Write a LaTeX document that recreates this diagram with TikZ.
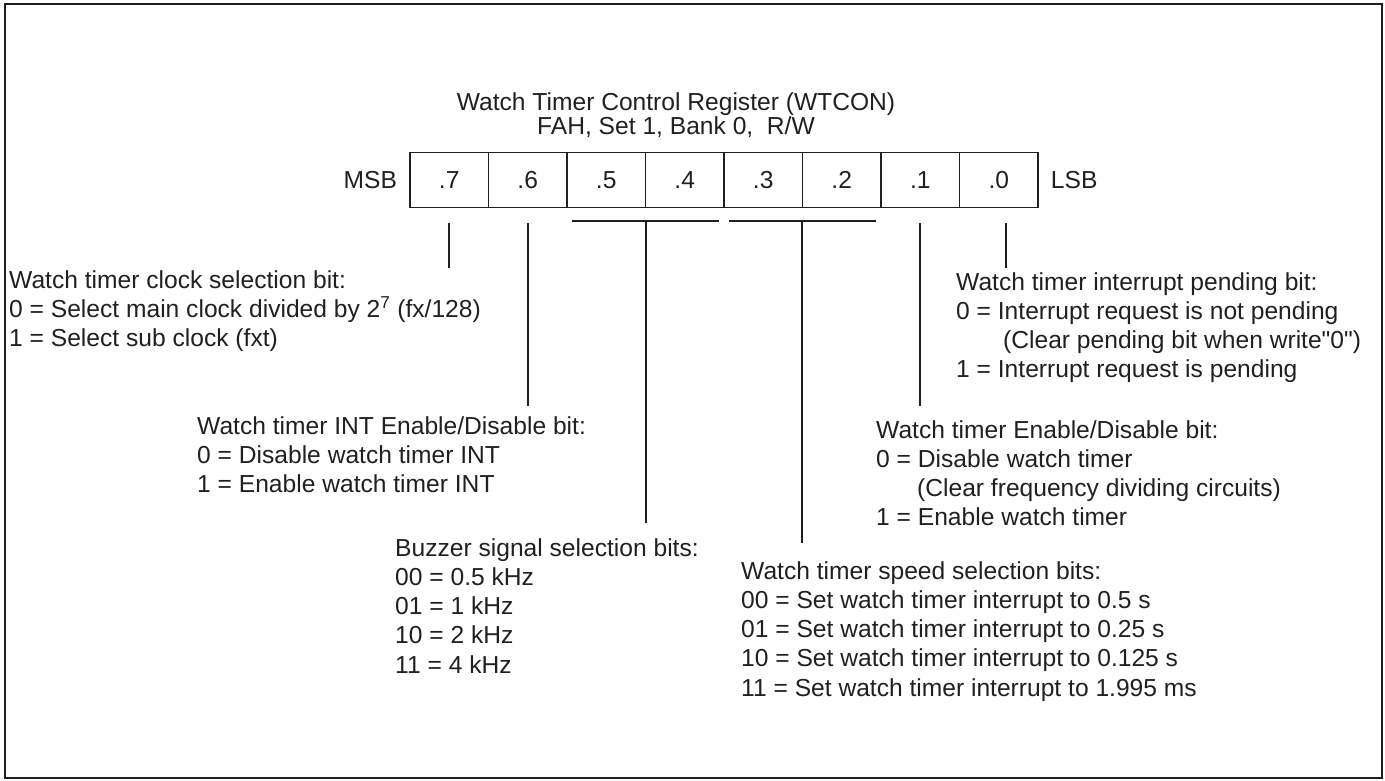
\documentclass[tikz,border=0pt]{standalone}
\usepackage{fontspec}
\setmainfont{Liberation Sans}[Ligatures=TeXOff]
\definecolor{ink}{RGB}{35,31,32}
\begin{document}
\begin{tikzpicture}[x=1pt,y=-1pt,
  lbl/.style={font=\fontsize{24.6}{29.3}\selectfont, text=ink, inner sep=0pt, anchor=base west},
  ttl/.style={lbl, anchor=base},
  cell/.style={draw=ink, line width=1.5pt, minimum width=78.5pt, minimum height=55pt,
               inner sep=0pt, font=\fontsize{24.6}{29.3}\selectfont, text=ink},
  ln/.style={draw=ink, line width=1.5pt}]
\useasboundingbox (0,0) rectangle (1385,780);
\draw[draw=ink, line width=2.4pt] (5,4) rectangle (1382,778);

% title
\node[ttl] (t1) at (676,110) {Watch Timer Control Register (WTCON)};
\node[ttl] (t2) at (676,134) {FAH, Set 1, Bank 0,\ \ R/W};

% register cells
\foreach \i/\t in {0/.7,1/.6,2/.5,3/.4,4/.3,5/.2,6/.1,7/.0}{
  \node[cell] (b\i) at ({410+78.5*(\i+0.5)},180) {\t};
}
\node[lbl, anchor=east] (msb) at ([xshift=-12pt]b0.west) {MSB};
\node[lbl, anchor=west] (lsb) at ([xshift=12pt]b7.east) {LSB};

% connector coordinates
\coordinate (k7a) at (449,223);  \coordinate (k7b) at (449,268);
\coordinate (k6a) at (528,223);  \coordinate (k6b) at (528,406);
\coordinate (g54l) at (572,221); \coordinate (g54r) at (719,221);
\coordinate (k54a) at (646,221); \coordinate (k54b) at (646,523);
\coordinate (g32l) at (729,221); \coordinate (g32r) at (876,221);
\coordinate (k32a) at (802,221); \coordinate (k32b) at (802,543);
\coordinate (k1a) at (920,223);  \coordinate (k1b) at (920,406);
\coordinate (k0a) at (1006,223); \coordinate (k0b) at (1006,268);

\draw[ln] (k7a) -- (k7b);
\draw[ln] (k6a) -- (k6b);
\draw[ln] (g54l) -- (g54r);
\draw[ln] (k54a) -- (k54b);
\draw[ln] (g32l) -- (g32r);
\draw[ln] (k32a) -- (k32b);
\draw[ln] (k1a) -- (k1b);
\draw[ln] (k0a) -- (k0b);

% bit .7
\node[lbl] (c1) at (9,288) {Watch timer clock selection bit:};
\node[lbl] (c2) at (9,317.3) {0 = Select main clock divided by 2\textsuperscript{7} (fx/128)};
\node[lbl] (c3) at (9,346.6) {1 = Select sub clock (fxt)};

% bit .6
\node[lbl] (i1) at (197,434) {Watch timer INT Enable/Disable bit:};
\node[lbl] (i2) at (197,463.3) {0 = Disable watch timer INT};
\node[lbl] (i3) at (197,492.6) {1 = Enable watch timer INT};

% bits .5/.4
\node[lbl] (z1) at (395,556) {Buzzer signal selection bits:};
\node[lbl] (z2) at (395,585.3) {00 = 0.5 kHz};
\node[lbl] (z3) at (395,614.6) {01 = 1 kHz};
\node[lbl] (z4) at (395,643.9) {10 = 2 kHz};
\node[lbl] (z5) at (395,673.2) {11 = 4 kHz};

% bits .3/.2
\node[lbl] (s1) at (741,579) {Watch timer speed selection bits:};
\node[lbl] (s2) at (741,608.3) {00 = Set watch timer interrupt to 0.5 s};
\node[lbl] (s3) at (741,637.6) {01 = Set watch timer interrupt to 0.25 s};
\node[lbl] (s4) at (741,666.9) {10 = Set watch timer interrupt to 0.125 s};
\node[lbl] (s5) at (741,696.2) {11 = Set watch timer interrupt to 1.995 ms};

% bit .1
\node[lbl] (e1) at (876,438) {Watch timer Enable/Disable bit:};
\node[lbl] (e2) at (876,467.3) {0 = Disable watch timer};
\node[lbl] (e3) at (917,496.6) {(Clear frequency dividing circuits)};
\node[lbl] (e4) at (876,525.9) {1 = Enable watch timer};

% bit .0
\node[lbl] (p1) at (956,290) {Watch timer interrupt pending bit:};
\node[lbl] (p2) at (956,319.3) {0 = Interrupt request is not pending};
\node[lbl] (p3) at (1003,348.6) {(Clear pending bit when write"0")};
\node[lbl] (p4) at (956,377.9) {1 = Interrupt request is pending};
\end{tikzpicture}
\end{document}
